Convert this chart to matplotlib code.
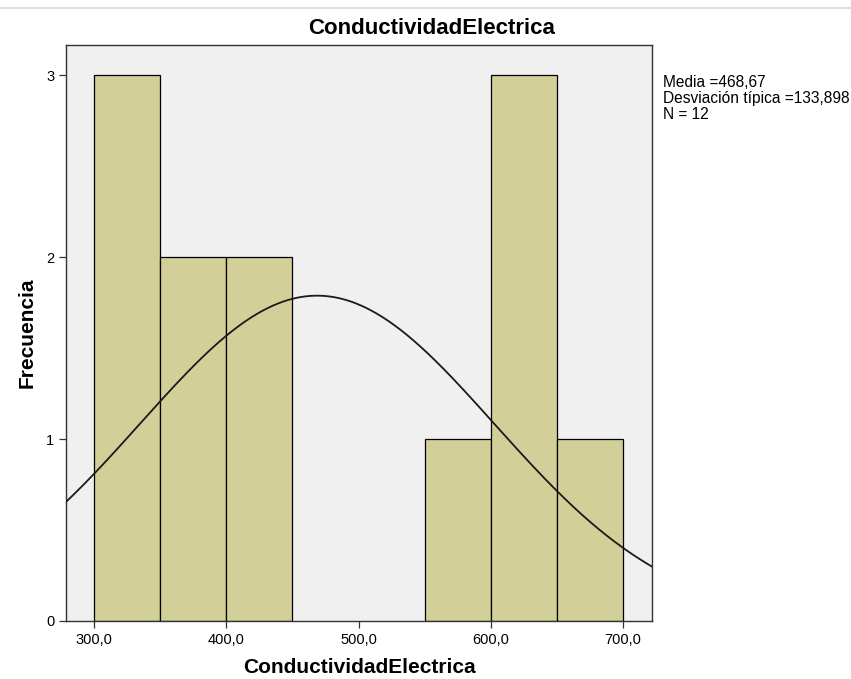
import numpy as np
import matplotlib
matplotlib.use("Agg")
import matplotlib.pyplot as plt
from matplotlib.lines import Line2D

plt.rcParams['font.family'] = ['Liberation Sans', 'DejaVu Sans']

bin_edges = [300, 350, 400, 450, 500, 550, 600, 650, 700]
counts = [3, 2, 2, 0, 0, 1, 3, 1]
mean = 468.67
std = 133.898
n = 12
xticks = [300, 400, 500, 600, 700]
xtick_labels = ["300,0", "400,0", "500,0", "600,0", "700,0"]
yticks = [0, 1, 2, 3]

fig = plt.figure(figsize=(8.51, 6.79), dpi=100)
fig.patch.set_facecolor('white')
fig.add_artist(Line2D([0, 1], [1 - 8/679, 1 - 8/679], color='#d8d8d8', lw=1.2, transform=fig.transFigure))

ax = fig.add_axes([66/851, 1 - 621/679, (652 - 66)/851, (621 - 45)/679])
ax.set_facecolor('#f0f0f0')

lefts = bin_edges[:-1]
widths = np.diff(bin_edges)
for l, w, c in zip(lefts, widths, counts):
    if c > 0:
        ax.bar(l, c, width=w, align='edge', color='#d3cf98', edgecolor='black', linewidth=0.9, zorder=2)

xmin, xmax = 278.8, 721.9
xs = np.linspace(xmin, xmax, 500)
binw = bin_edges[1] - bin_edges[0]
ys = n * binw / (std * np.sqrt(2 * np.pi)) * np.exp(-0.5 * ((xs - mean) / std) ** 2)
ax.plot(xs, ys, color='#1a1a1a', lw=1.3, zorder=3)

ax.set_xlim(xmin, xmax)
ax.set_ylim(0, 3.165)
ax.set_xticks(xticks)
ax.set_xticklabels(xtick_labels, fontsize=10.5)
ax.set_yticks(yticks)
ax.set_yticklabels([str(v) for v in yticks], fontsize=10.5)
ax.tick_params(direction='out', length=5, width=0.9, color='#333333')
for s in ax.spines.values():
    s.set_linewidth(1.0)
    s.set_color('#333333')

fig.text(432/851, 1 - 29/679, 'ConductividadElectrica', fontsize=16, fontweight='bold',
         ha='center', va='center')
ax.set_xlabel('ConductividadElectrica', fontsize=15, fontweight='bold', labelpad=8)
ax.set_ylabel('Frecuencia', fontsize=15, fontweight='bold', labelpad=7)

fig.text(663/851, 1 - 75/679,
         "Media =468,67\nDesviación típica =133,898\nN = 12",
         fontsize=11.2, va='top', ha='left', linespacing=1.1)

fig.savefig('out.png', dpi=100)
